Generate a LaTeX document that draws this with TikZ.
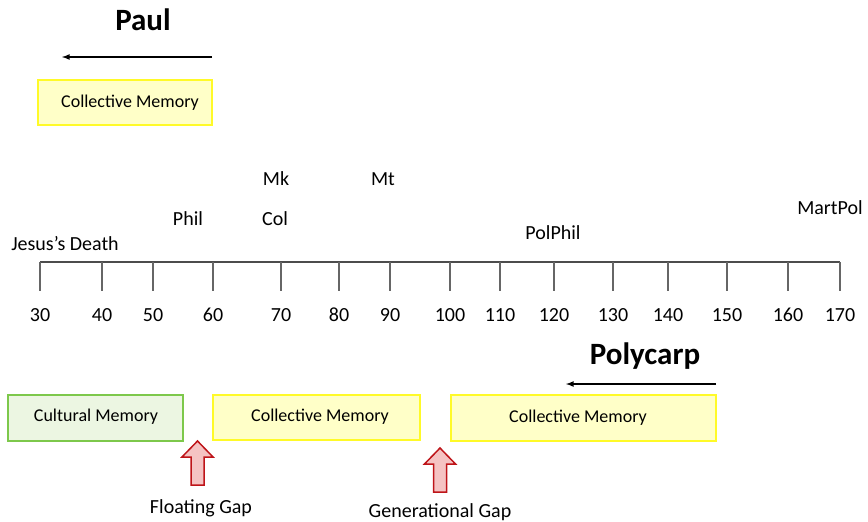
\documentclass[tikz,border=0pt]{standalone}
\usepackage{fontspec}
\setmainfont{Carlito}
\definecolor{memyellow}{RGB}{255,250,40}
\definecolor{memyellowfill}{RGB}{255,255,200}
\definecolor{memgreen}{RGB}{125,200,75}
\definecolor{memgreenfill}{RGB}{236,246,226}
\definecolor{gapred}{RGB}{190,20,25}
\definecolor{gapfill}{RGB}{245,195,195}
\newcommand{\lbl}{\fontsize{20}{22}\selectfont}
\newcommand{\boxlbl}{\fontsize{18}{20}\selectfont}
\newcommand{\gaparrow}[1]{\draw[gapstyle] (#1) -- ++(15.5,16) -- ++(-9,0) -- ++(0,28) -- ++(-13,0) -- ++(0,-28) -- ++(-9,0) -- cycle;}

\begin{document}
\begin{tikzpicture}[x=1pt,y=-1pt]
    \tikzset{collbox/.style={draw=memyellow,fill=memyellowfill,line width=2pt},
      cultbox/.style={draw=memgreen,fill=memgreenfill,line width=2pt},
      persname/.style={font=\fontsize{31}{34}\selectfont\bfseries},
      gapstyle/.style={draw=gapred,fill=gapfill,line width=1.5pt,line join=miter},
      txt/.style={font=\lbl,text=black},
      boxtxt/.style={font=\boxlbl,text=black}}
\useasboundingbox (0,0) rectangle (868,522);
% Paul
\node[persname] (paul) at (143,20) {Paul};
\coordinate (pa1) at (212,57);
\coordinate (pa2) at (62,57);
\draw[line width=1.6pt,-latex] (pa1) -- (pa2);
\path[collbox] (38,80) rectangle (212,125);
\node[boxtxt] (pcm) at (130,103) {Collective Memory};
% timeline
\coordinate (t0) at (40,262);
\coordinate (t1) at (840,262);
\draw[line width=2pt,black!70] (t0) -- (t1);
\foreach \x/\v in {40/30,102/40,153/50,213/60,281/70,339/80,390/90,450/100,500/110,554/120,613/130,668/140,727/150,788/160,840/170}
  \draw[line width=1.5pt,black!60] (\x,262) -- (\x,291) node[txt,below=13pt] (y\v) {\v};
\node[txt] (death) at (65,244) {Jesus’s Death};
\node[txt] (phil) at (188,219) {Phil};
\node[txt] (col) at (275,219) {Col};
\node[txt] (mk) at (276,179) {Mk};
\node[txt] (mt) at (383,179) {Mt};
\node[txt] (polphil) at (553,233) {PolPhil};
\node[txt] (martpol) at (830,208) {MartPol};
% Polycarp
\node[persname] (poly) at (645,356) {Polycarp};
\coordinate (pb1) at (716,384);
\coordinate (pb2) at (566,384);
\draw[line width=1.6pt,-latex] (pb1) -- (pb2);
\path[cultbox] (8,395) rectangle (183,441);
\node[boxtxt] (cult) at (96,417) {Cultural Memory};
\path[collbox] (213,395) rectangle (420,440);
\node[boxtxt] (cm1) at (320,417) {Collective Memory};
\path[collbox] (451,395) rectangle (716,441);
\node[boxtxt] (cm2) at (578,418) {Collective Memory};
% gaps
\coordinate (fgap) at (197.5,441);
\gaparrow{fgap}
\node[txt] (fgl) at (201,508) {Floating Gap};
\coordinate (ggap) at (440,448);
\gaparrow{ggap}
\node[txt] (ggl) at (440,512) {Generational Gap};
\end{tikzpicture}
\end{document}
